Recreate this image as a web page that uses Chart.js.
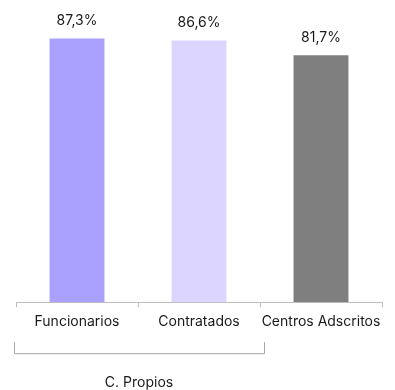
<!DOCTYPE html>
<html>
<head>
<meta charset="utf-8">
<script src="https://cdn.jsdelivr.net/npm/chart.js@4"></script>
<style>
  body { margin: 0; background: #fff; }
  #wrap { width: 395px; height: 390px; }
</style>
</head>
<body>
<div id="wrap"><canvas id="myChart"></canvas></div>
<script>
const categorias = ['Funcionarios', 'Contratados', 'Centros Adscritos'];
const valores = [87.3, 86.6, 81.7];
const colores = ['#aaa1ff', '#dcd5ff', '#7f7f7f'];
const grupo = { label: 'C. Propios', desde: 0, hasta: 1 };

// etiquetas encima de cada barra
const etiquetas = {
    id: 'etiquetas',
    afterDatasetsDraw(chart) {
        const ctx = chart.ctx;
        const meta = chart.getDatasetMeta(0);
        ctx.save();
        ctx.font = '14px Inter';
        ctx.fillStyle = '#1a1a1a';
        ctx.textAlign = 'center';
        ctx.textBaseline = 'middle';
        meta.data.forEach((bar, i) => {
            ctx.fillText(valores[i].toFixed(1).replace('.', ',') + '%', bar.x, bar.y - 18);
        });
        ctx.restore();
    }
};

// llave bajo las dos primeras categorias
const llave = {
    id: 'llave',
    afterDraw(chart) {
        const ctx = chart.ctx;
        const x = chart.scales.x;
        const half = (x.getPixelForValue(1) - x.getPixelForValue(0)) / 2;
        const x0 = x.getPixelForValue(grupo.desde) - half - 2;
        const x1 = x.getPixelForValue(grupo.hasta) + half + 4;
        const y0 = x.top + 40;
        const y1 = y0 + 11;
        ctx.save();
        ctx.strokeStyle = '#a6a6a6';
        ctx.lineWidth = 1;
        ctx.beginPath();
        ctx.moveTo(x0 + 0.5, y0);
        ctx.lineTo(x0 + 0.5, y1 + 0.5);
        ctx.lineTo(x1 + 0.5, y1 + 0.5);
        ctx.lineTo(x1 + 0.5, y0);
        ctx.stroke();
        ctx.font = '14px Inter';
        ctx.fillStyle = '#1a1a1a';
        ctx.textAlign = 'center';
        ctx.textBaseline = 'middle';
        ctx.fillText(grupo.label, (x0 + x1) / 2, y1 + 30);
        ctx.restore();
    }
};

const data = {
    labels: categorias,
    datasets: [{
        data: valores,
        backgroundColor: colores,
        barPercentage: 0.45,
        categoryPercentage: 1
    }]
};

const config = {
    type: 'bar',
    data: data,
    options: {
        responsive: true,
        maintainAspectRatio: false,
        animation: false,
        layout: { padding: { left: 16, right: 13, top: 0, bottom: 54 } },
        plugins: { legend: { display: false }, tooltip: { enabled: false } },
        scales: {
            y: { display: false, min: 0, max: 100 },
            x: {
                grid: { display: true, offset: true, drawOnChartArea: false, tickLength: 5, color: '#bfbfbf' },
                border: { display: true, color: '#bfbfbf' },
                ticks: { color: '#1a1a1a', font: { family: 'Inter', size: 14 }, padding: 6, maxRotation: 0, minRotation: 0, autoSkip: false }
            }
        }
    },
    plugins: [etiquetas, llave]
};

const myChart = new Chart(document.getElementById('myChart'), config);
</script>
</body>
</html>
